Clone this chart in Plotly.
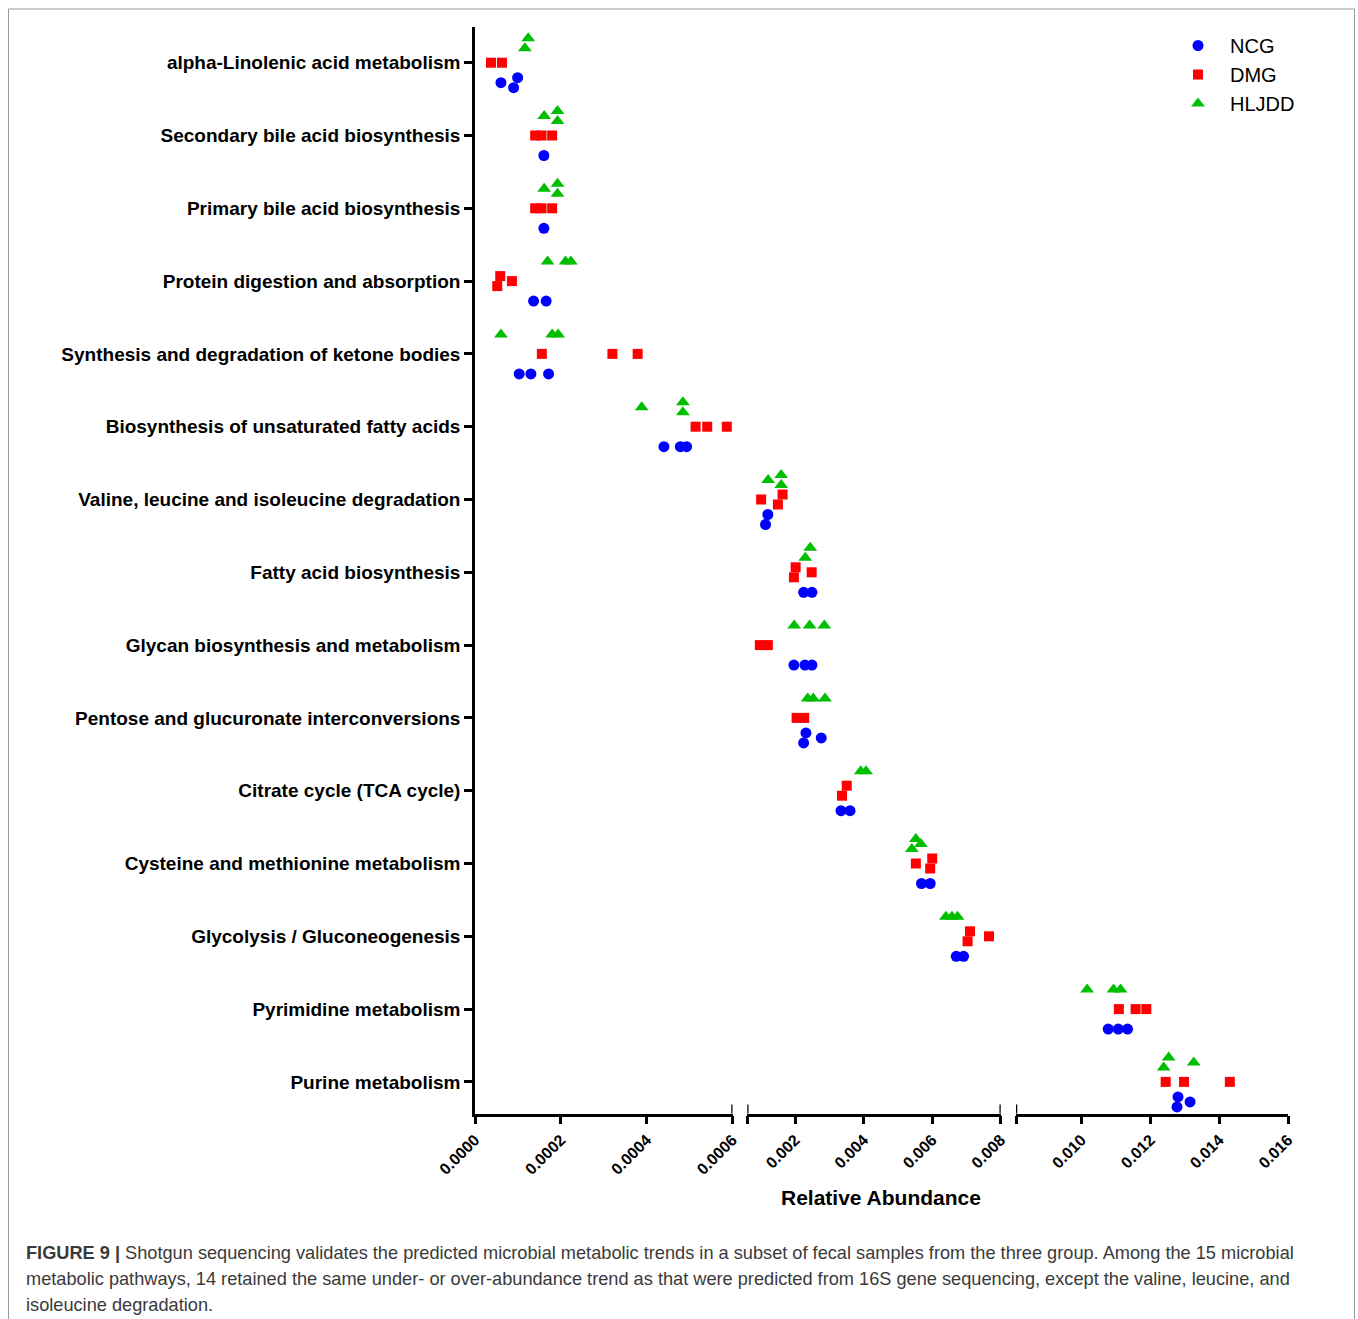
import plotly.graph_objects as go

# ---------------- data ----------------
categories = [
    "alpha-Linolenic acid metabolism",
    "Secondary bile acid biosynthesis",
    "Primary bile acid biosynthesis",
    "Protein digestion and absorption",
    "Synthesis and degradation of ketone bodies",
    "Biosynthesis of unsaturated fatty acids",
    "Valine, leucine and isoleucine degradation",
    "Fatty acid biosynthesis",
    "Glycan biosynthesis and metabolism",
    "Pentose and glucuronate interconversions",
    "Citrate cycle (TCA cycle)",
    "Cysteine and methionine metabolism",
    "Glycolysis / Gluconeogenesis",
    "Pyrimidine metabolism",
    "Purine metabolism",
]

ncg = [
    [6.05e-5, 9.0e-5, 9.93e-5],
    [1.605e-4],
    [1.605e-4],
    [1.365e-4, 1.658e-4],
    [1.03e-4, 1.302e-4, 1.714e-4],
    [4.402e-4, 4.784e-4, 4.93e-4],
    [1.133e-3, 1.20e-3],
    [2.245e-3, 2.488e-3],
    [1.961e-3, 2.283e-3, 2.488e-3],
    [2.245e-3, 2.312e-3, 2.76e-3],
    [3.336e-3, 3.60e-3],
    [5.686e-3, 5.941e-3],
    [6.702e-3, 6.916e-3],
    [1.0778e-2, 1.1069e-2, 1.134e-2],
    [1.2776e-2, 1.2805e-2, 1.3155e-2],
]

dmg = [
    [3.72e-5, 6.28e-5],
    [1.402e-4, 1.551e-4, 1.798e-4],
    [1.402e-4, 1.551e-4, 1.798e-4],
    [5.19e-5, 5.88e-5, 8.6e-5],
    [1.558e-4, 3.202e-4, 3.79e-4],
    [5.14e-4, 5.411e-4, 5.867e-4],
    [1.004e-3, 1.493e-3, 1.63e-3],
    [1.961e-3, 2.011e-3, 2.479e-3],
    [0.966e-3, 1.20e-3],
    [2.04e-3, 2.262e-3],
    [3.366e-3, 3.503e-3],
    [5.522e-3, 5.941e-3, 6.0e-3],
    [7.033e-3, 7.103e-3, 7.659e-3],
    [1.1087e-2, 1.1573e-2, 1.1885e-2],
    [1.2447e-2, 1.298e-2, 1.4311e-2],
]

hljdd = [
    [1.163e-4, 1.24e-4],
    [1.612e-4, 1.923e-4, 1.923e-4],
    [1.612e-4, 1.923e-4, 1.923e-4],
    [1.691e-4, 2.109e-4, 2.233e-4],
    [6.05e-5, 1.798e-4, 1.937e-4],
    [3.884e-4, 4.844e-4, 4.844e-4],
    [1.209e-3, 1.589e-3, 1.589e-3],
    [2.292e-3, 2.438e-3],
    [1.97e-3, 2.42e-3, 2.848e-3],
    [2.362e-3, 2.526e-3, 2.868e-3],
    [3.913e-3, 4.068e-3],
    [5.405e-3, 5.522e-3, 5.669e-3],
    [6.40e-3, 6.576e-3, 6.74e-3],
    [1.0166e-2, 1.0932e-2, 1.1136e-2],
    [1.2389e-2, 1.2534e-2, 1.3262e-2],
]

group_names = ["NCG", "DMG", "HLJDD"]

seg_ranges = [[0.0, 0.0006], [0.0006, 0.008], [0.0081, 0.016]]
seg_tickvals = [
    [0.0, 0.0002, 0.0004, 0.0006],
    [0.0006, 0.002, 0.004, 0.006, 0.008],
    [0.0081, 0.010, 0.012, 0.014, 0.016],
]
seg_ticktext = [
    ["0.0000", "0.0002", "0.0004", "0.0006"],
    ["", "0.002", "0.004", "0.006", "0.008"],
    ["", "0.010", "0.012", "0.014", "0.016"],
]

# ---------------- layout geometry ----------------
W, H = 1358, 1319
seg_px = [[475, 732.5], [747.3, 1000.7], [1016, 1288]]
y_top_px, y_bot_px = 27, 1113.5
cat_px0, cat_step = 62.7, 72.8
y_range = [(y_bot_px - cat_px0) / cat_step, (y_top_px - cat_px0) / cat_step]
y_dom = [1 - y_bot_px / H, 1 - y_top_px / H]

styles = {
    "NCG": dict(symbol="circle", size=11, color="#0000FF", off=20),
    "DMG": dict(symbol="square", size=10, color="#FF0000", off=0),
    "HLJDD": dict(symbol="triangle-up", size=12, color="#00BE00", off=-19.5),
}
FONT = "Liberation Sans, Arial, sans-serif"


def seg_of(v):
    if v < seg_ranges[0][1]:
        return 0
    if v < seg_ranges[2][0]:
        return 1
    return 2


def to_px(v):
    s = seg_of(v)
    r, p = seg_ranges[s], seg_px[s]
    return p[0] + (v - r[0]) / (r[1] - r[0]) * (p[1] - p[0])


def dodge(vals, thr=5.0, step=10.0):
    """cluster near-coincident markers and spread each cluster vertically"""
    order = sorted(range(len(vals)), key=lambda i: vals[i])
    clusters, cur = [], [order[0]] if order else []
    for a, b in zip(order, order[1:]):
        if to_px(vals[b]) - to_px(vals[a]) < thr:
            cur.append(b)
        else:
            clusters.append(cur)
            cur = [b]
    if cur:
        clusters.append(cur)
    offs = [0.0] * len(vals)
    for cl in clusters:
        n = len(cl)
        for k, i in enumerate(cl):
            offs[i] = ((n - 1) / 2 - k) * step
    return offs


fig = go.Figure()
data = {"NCG": ncg, "DMG": dmg, "HLJDD": hljdd}
axis_ids = ["x", "x2", "x3"]

for g in group_names:
    st = styles[g]
    xs = [[], [], []]
    ys = [[], [], []]
    for ci, vals in enumerate(data[g]):
        offs = dodge(vals)
        for v, o in zip(vals, offs):
            s = seg_of(v)
            xs[s].append(v)
            ys[s].append(ci + (st["off"] + o) / cat_step)
    for s in range(3):
        fig.add_trace(go.Scatter(
            x=xs[s], y=ys[s], mode="markers", name=g,
            legendgroup=g, showlegend=(s == 0),
            xaxis=axis_ids[s], yaxis="y", cliponaxis=False,
            marker=dict(symbol=st["symbol"], size=st["size"], color=st["color"],
                        line=dict(width=0)),
            hoverinfo="x+name",
        ))

axis_common = dict(
    showline=True, linecolor="black", linewidth=2.5, ticks="outside",
    ticklen=8, tickwidth=2.5, tickcolor="black", showgrid=False, zeroline=False,
    tickangle=-45, tickfont=dict(family=FONT, size=16, color="black", weight="bold"),
    anchor="y", fixedrange=True, automargin=False,
)

layout = dict(
    width=W, height=H, autosize=False, margin=dict(l=0, r=0, t=0, b=0, pad=0),
    paper_bgcolor="white", plot_bgcolor="white",
    font=dict(family=FONT, color="black"),
    yaxis=dict(
        domain=y_dom, range=y_range, tickmode="array",
        tickvals=list(range(len(categories))), ticktext=categories,
        showline=True, linecolor="black", linewidth=2.5, ticks="outside",
        ticklen=8, tickwidth=2.5, tickcolor="black", showgrid=False,
        zeroline=False, anchor="x", automargin=False, fixedrange=True,
        tickfont=dict(family=FONT, size=19, color="black", weight="bold"),
    ),
    legend=dict(
        x=1166 / W, y=1 - 26 / H, xanchor="left", yanchor="top",
        font=dict(family=FONT, size=20, color="black"),
        bgcolor="rgba(0,0,0,0)", itemwidth=54, tracegroupgap=0,
    ),
    showlegend=True,
)
for s in range(3):
    key = "xaxis" if s == 0 else "xaxis%d" % (s + 1)
    ax = dict(axis_common)
    ax.update(domain=[seg_px[s][0] / W, seg_px[s][1] / W], range=seg_ranges[s],
              tickmode="array", tickvals=seg_tickvals[s], ticktext=seg_ticktext[s])
    layout[key] = ax

fig.update_layout(**layout)

# caps at the segment breaks
ax_y = 1 - y_bot_px / H
cap = 9 / H
for ref, xv in [("x", 0.0006), ("x2", 0.0006), ("x2", 0.008), ("x3", 0.0081)]:
    fig.add_shape(type="line", xref=ref, yref="paper", x0=xv, x1=xv,
                  y0=ax_y, y1=ax_y + cap, line=dict(color="black", width=2.5))

# frame
fig.add_shape(type="rect", xref="paper", yref="paper", x0=8.5 / W, x1=1354.5 / W,
              y0=-0.02, y1=1 - 9 / H, line=dict(color="#999999", width=1),
              layer="below")

# axis title
fig.add_annotation(text="<b>Relative Abundance</b>", xref="paper", yref="paper",
                   x=881 / W, y=1 - 1197 / H, showarrow=False, xanchor="center",
                   yanchor="middle", font=dict(family=FONT, size=21, color="black"))

caption = [
    "<b>FIGURE 9 |</b> Shotgun sequencing validates the predicted microbial metabolic trends in a subset of fecal samples from the three group. Among the 15 microbial",
    "metabolic pathways, 14 retained the same under- or over-abundance trend as that were predicted from 16S gene sequencing, except the valine, leucine, and",
    "isoleucine degradation.",
]
for i, line in enumerate(caption):
    fig.add_annotation(text=line, xref="paper", yref="paper", x=24 / W,
                       y=1 - (1253 + 26 * i) / H, showarrow=False, xanchor="left",
                       yanchor="middle", align="left",
                       font=dict(family=FONT, size=18.2, color="#3a3a3a"))

fig.write_html(
    "out.html",
    config={"responsive": False, "displayModeBar": False},
    post_script="document.body.style.margin='0';document.body.style.overflow='hidden';",
)
